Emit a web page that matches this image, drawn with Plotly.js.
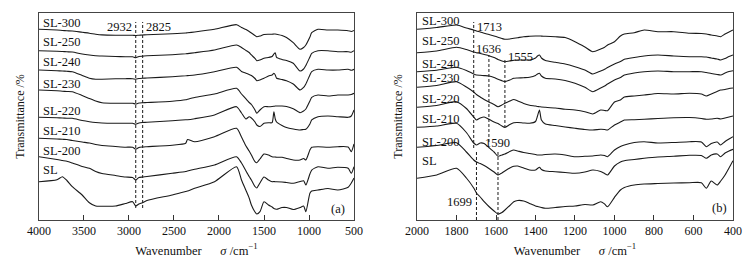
<!DOCTYPE html>
<html>
<head>
<meta charset="utf-8">
<script src="https://cdn.plot.ly/plotly-3.0.1.min.js"></script>
<style>html,body{margin:0;padding:0;background:#fff;}#chart{width:754px;height:263px;}</style>
</head>
<body>
<div id="chart"></div>
<script>
// ---------- DATA ----------
const sampleNames = ["SL-300", "SL-250", "SL-240", "SL-230", "SL-220", "SL-210", "SL-200", "SL"];

// Panel (a): wavenumber grid (cm^-1)
const wavenumberA = [4000, 3800, 3740, 3690, 3630, 3520, 3440, 3370, 3300, 3150, 3040, 2960, 2925, 2890, 2850, 2800, 2520, 2370, 2350, 2270, 2050, 1805, 1750, 1700, 1665, 1640, 1600, 1580, 1545, 1500, 1450, 1410, 1390, 1375, 1360, 1300, 1250, 1175, 1100, 1060, 1035, 990, 970, 900, 790, 680, 565, 530, 500];

// Panel (a): stacked transmittance (arbitrary units, offset per sample)
const transA_SL300 = [190.7, 190, 189.5, 189.2, 189, 187.7, 186.8, 185.8, 185.1, 184.7, 184.7, 184.7, 184.5, 184.8, 185, 185.3, 186.3, 187, 187.2, 188, 190.7, 195.3, 192.5, 190.5, 188.5, 187, 184.5, 183.3, 184, 185.5, 185.7, 185.7, 186, 186, 185.7, 184.5, 182.5, 177.3, 170.7, 172.5, 175, 183, 187.3, 190.7, 190, 190, 189.3, 188.5, 189.5];
const transA_SL250 = [169.3, 168.8, 168.5, 168.2, 168, 166, 165, 164.3, 164, 163.5, 163.3, 163.2, 162.3, 163.5, 163.8, 164.2, 165.3, 166.2, 166.4, 167.3, 170, 175, 172.5, 169.5, 167.5, 165, 161.5, 159.3, 160, 161.7, 162.5, 163.5, 166, 167.3, 162.5, 160.5, 159.5, 156.7, 149, 151, 154.5, 163, 166.7, 169.3, 169.3, 168.3, 168.3, 167.7, 169.3];
const transA_SL240 = [150, 149.2, 149, 148.7, 148.3, 144.5, 141.7, 140.7, 140.8, 141.2, 141.3, 141.3, 140.7, 141.5, 141.8, 142, 143.3, 144.2, 144.4, 145, 148.3, 152.7, 148.5, 146.8, 145.5, 144.5, 141.5, 139.3, 140, 141.7, 144, 145, 146.7, 145, 141.7, 140.5, 139.3, 136, 130, 132.5, 136, 145, 148.3, 150.7, 150, 150, 150.7, 149.7, 150.7];
const transA_SL230 = [130, 129.2, 128.8, 128.5, 128.3, 124.5, 121.5, 119, 117.3, 116.7, 116.7, 116.7, 116, 117, 117.3, 117.5, 118.7, 120.2, 120.7, 122.5, 126, 131.7, 126, 121, 117.5, 115.5, 110, 106.7, 110, 113.3, 113.3, 113.5, 113.7, 114, 114, 114, 113.5, 111.3, 107.3, 109, 111, 119, 122.7, 125, 124, 125, 125, 125.5, 126.7];
const transA_SL220 = [102.7, 102.2, 102, 101.8, 101.7, 99.5, 98.3, 97.5, 97, 96.7, 96.7, 96.7, 95.7, 97, 97.5, 97.7, 99.3, 100.2, 100.3, 101.3, 105, 113.3, 107, 101, 103.3, 102, 98, 95, 93.5, 96.7, 97.3, 97.3, 108.3, 101, 98, 94.5, 92.5, 91, 90, 90.5, 90.7, 96, 100, 103.3, 104, 103.3, 102.7, 104, 110];
const transA_SL210 = [81.7, 81, 80.7, 80.5, 79.5, 78, 77, 75.5, 74.5, 73.5, 72.8, 72.7, 70.7, 72.5, 73, 73.3, 74.8, 76.7, 80.5, 78.3, 83.3, 91.7, 83, 74, 69, 65, 58.3, 57.3, 61, 66, 65, 63.3, 63, 63, 62.7, 62.7, 61.5, 60, 60, 61.5, 60, 70, 72.7, 73.3, 72.7, 73.3, 73, 68.3, 76];
const transA_SL200 = [63.3, 60.5, 59.5, 58.7, 57, 53.5, 51.7, 48.5, 46.5, 44.5, 43, 42.5, 40, 42.5, 43, 43.5, 46.7, 48.5, 49, 50.7, 55, 63.3, 57, 49, 43.5, 40, 33.5, 32, 37, 43, 40, 38.3, 38.5, 38.3, 38.3, 38, 37.5, 36.7, 38.5, 39.3, 35, 46, 50, 53.3, 51.7, 52.7, 51.7, 46.7, 53.3];
const transA_SL = [38.3, 40.2, 43.3, 39.5, 33.3, 25, 17.3, 14, 13.8, 14, 16.5, 18.3, 14, 16, 17.3, 19.5, 25, 28.5, 29, 31.7, 38.3, 53.3, 40, 29.5, 22, 15, 8, 6, 8.3, 18.3, 15, 13, 11.5, 11, 10.7, 12.5, 12.5, 10.5, 12.5, 14, 8.3, 26.7, 29, 30, 31.5, 30, 32.7, 37, 42];

// Panel (b): wavenumber grid (cm^-1)
const wavenumberB = [2000, 1900, 1800, 1750, 1713, 1699, 1680, 1660, 1636, 1610, 1590, 1570, 1555, 1530, 1510, 1490, 1460, 1430, 1400, 1390, 1380, 1370, 1350, 1300, 1250, 1200, 1150, 1110, 1070, 1050, 1035, 1000, 970, 950, 900, 850, 780, 700, 620, 560, 535, 510, 480, 462, 440, 420, 400];

const transB_SL300 = [190.7, 192.5, 195, 192, 190, 189, 188, 186.7, 185.5, 184, 182.8, 181.5, 180.7, 181, 181.7, 182.3, 183.3, 183.7, 184, 184, 184, 183.9, 183.7, 183.2, 182.5, 178.3, 173, 168.3, 171, 172.7, 175, 178.3, 184, 186, 187.3, 190, 188.3, 188.3, 186.7, 186.5, 186, 185, 184, 183.3, 186, 188, 190];
const transB_SL250 = [167.3, 169, 172.7, 170.5, 168, 167.3, 166.5, 165.5, 164.3, 162.5, 160.5, 159, 158.3, 159, 159.8, 160, 160, 160, 162, 164, 165, 162, 159.5, 157.7, 156, 153.3, 150, 146, 149, 150.7, 152.5, 156, 158.5, 160.7, 162.5, 164, 165, 164, 163.3, 163.3, 163, 162, 161, 160, 161.5, 163.5, 165];
const transB_SL240 = [148.3, 149.8, 152.7, 149.5, 146, 145, 144.7, 144.4, 144, 142.5, 140.7, 139.3, 138.3, 140, 141.7, 142, 142.3, 142.7, 144.5, 146, 146.7, 144, 141.7, 141, 139.5, 136.7, 132.7, 128.3, 132, 134, 136, 140, 142.5, 145, 147, 148.3, 149, 148.3, 148.3, 148.3, 147.5, 146.5, 145.5, 145, 147, 148.5, 149.3];
const transB_SL230 = [132.7, 134.5, 138.3, 133, 128, 125.5, 123, 120.5, 118, 115.5, 113.3, 115, 116.7, 119, 120.5, 119, 116.5, 114.8, 114, 113.5, 113.3, 113, 112.7, 112, 110.8, 110, 108.3, 106, 110, 109.5, 109.3, 118, 120, 123, 124, 125, 126.5, 126, 126.7, 126, 124, 126, 128.5, 130, 130.5, 131.5, 132];
const transB_SL220 = [112.7, 114.5, 118.3, 111.5, 103, 100, 102, 103, 100.7, 98, 96.5, 94, 92.7, 95.5, 97.3, 97.5, 97, 96.7, 98.5, 104, 110, 100, 96, 94.5, 93, 91.7, 90.5, 90, 90.7, 90.5, 90, 95, 98, 100, 100.3, 100.7, 101.5, 102.3, 102.5, 101.5, 100.7, 101, 101.7, 101, 102, 103, 104];
const transB_SL210 = [92.7, 94, 96.7, 87.5, 77, 75, 77, 76.5, 72.5, 68, 63.7, 65, 66, 68.5, 70, 69, 67.5, 66.5, 65.5, 65, 65, 65, 65.5, 66, 65, 63.3, 63.7, 64, 65, 64.5, 63.3, 70, 73.5, 75, 77.5, 78.3, 77, 77.5, 78.3, 78, 73.3, 76.5, 78, 75, 78.5, 81, 83.3];
const transB_SL200 = [72.7, 74.5, 77.3, 68, 60, 58, 56.5, 54.5, 51.5, 48, 45, 47, 49, 52, 53.7, 54, 52, 50, 50, 51.5, 52.7, 50.5, 49, 48.3, 47.5, 46.7, 48, 50, 48.5, 46.5, 45, 54, 58, 59.3, 60.5, 61.7, 63, 63.7, 64.7, 64.5, 61.7, 65, 66, 63.3, 67, 69, 70.7];
const transB_SL = [41.7, 45, 51.7, 42, 32, 27, 23, 18.3, 13.5, 9, 6, 7.5, 10, 14.5, 18.3, 19.5, 19, 16.5, 14, 13.5, 13, 12.5, 11.7, 12.5, 13.5, 14, 15.5, 15, 18.3, 16, 13.3, 22.7, 30, 32.5, 35, 36, 36.5, 37, 37.3, 37.3, 31.7, 39, 35, 39, 45, 52, 59.3];

// Sample label heights (same units as transmittance)
const labelPosA = [197, 177.5, 157.5, 135.5, 109, 89, 69, 50.5];
const labelPosB = [199, 179, 156, 141.5, 120.5, 100.5, 78, 59.5];

// Marked bands
const marksA = [
  {pos: 2925, text: "2932", top: 198, bottom: 12, ty: 193.3, anchor: "right"},
  {pos: 2848, text: "2825", top: 198, bottom: 12, ty: 193.3, anchor: "left"}
];
const marksB = [
  {pos: 1713, text: "1713", top: 198, bottom: 72, ty: 193.3, anchor: "left"},
  {pos: 1636, text: "1636", top: 165, bottom: 78, ty: 170.7, anchor: "center"},
  {pos: 1555, text: "1555", top: 162, bottom: 92, ty: 163.3, anchor: "left"},
  {pos: 1590, text: "1590", top: 70, bottom: 0, ty: 76.7, anchor: "center"},
  {pos: 1699, text: "1699", top: 70, bottom: 0, ty: 18.3, anchor: "right"}
];

const seriesA = [transA_SL300, transA_SL250, transA_SL240, transA_SL230, transA_SL220, transA_SL210, transA_SL200, transA_SL];
const seriesB = [transB_SL300, transB_SL250, transB_SL240, transB_SL230, transB_SL220, transB_SL210, transB_SL200, transB_SL];

// ---------- CHART ----------
const FONT = "Liberation Serif, Times New Roman, serif";
const lineStyle = {color: "#1a1a1a", width: 1.1, shape: "spline", smoothing: 0.6};

const traces = [];
sampleNames.forEach((name, i) => {
  traces.push({x: wavenumberA, y: seriesA[i], xaxis: "x", yaxis: "y", mode: "lines", line: lineStyle, name: name, showlegend: false, hoverinfo: "skip"});
});
sampleNames.forEach((name, i) => {
  traces.push({x: wavenumberB, y: seriesB[i], xaxis: "x2", yaxis: "y2", mode: "lines", line: lineStyle, name: name, showlegend: false, hoverinfo: "skip"});
});

const annotations = [];
const shapes = [];
sampleNames.forEach((name, i) => {
  annotations.push({text: name, xref: "x domain", yref: "y", x: 0.006, y: labelPosA[i], xanchor: "left", yanchor: "middle", showarrow: false, font: {family: FONT, size: 12.5, color: "#111"}});
  annotations.push({text: name, xref: "x2 domain", yref: "y2", x: 0.008, y: labelPosB[i], xanchor: "left", yanchor: "middle", showarrow: false, font: {family: FONT, size: 12.5, color: "#111"}});
});
function addMarks(marks, xr, yr) {
  marks.forEach(m => {
    shapes.push({type: "line", xref: xr, yref: yr, x0: m.pos, x1: m.pos, y0: m.bottom, y1: m.top, line: {color: "#1a1a1a", width: 1, dash: "3px,2px"}});
    let shift = m.anchor === "left" ? 1 : (m.anchor === "right" ? -2 : 0);
    annotations.push({text: m.text, xref: xr, yref: yr, x: m.pos, y: m.ty, xanchor: m.anchor, yanchor: "middle", xshift: shift, showarrow: false, font: {family: FONT, size: 12.5, color: "#111"}});
  });
}
addMarks(marksA, "x", "y");
addMarks(marksB, "x2", "y2");
annotations.push({text: "(a)", xref: "x", yref: "y", x: 680, y: 11, showarrow: false, font: {family: FONT, size: 12.5, color: "#111"}});
annotations.push({text: "(b)", xref: "x2", yref: "y2", x: 470, y: 12, showarrow: false, font: {family: FONT, size: 12.5, color: "#111"}});

const xTitle = "Wavenumber\u00a0\u00a0\u00a0\u00a0\u00a0\u00a0<i>σ</i> /cm<sup>−1</sup>";
function xAxis(range, dtick, domain, anchor) {
  return {
    domain: domain, anchor: anchor, range: range, dtick: dtick, tick0: 0,
    ticks: "inside", ticklen: 5, tickwidth: 1, tickcolor: "#333",
    showline: true, linecolor: "#444", linewidth: 1, mirror: true,
    showgrid: false, zeroline: false, automargin: false,
    tickfont: {family: FONT, size: 12, color: "#111"},
    title: {text: xTitle, font: {family: FONT, size: 12.5, color: "#111"}, standoff: 8}
  };
}
function yAxis(anchor) {
  return {
    domain: [0.1635, 0.9506], anchor: anchor, range: [0, 207],
    showline: true, linecolor: "#444", linewidth: 1, mirror: true,
    ticks: "", showticklabels: false, showgrid: false, zeroline: false, automargin: false,
    title: {text: "Transmittance /%", font: {family: FONT, size: 12, color: "#111"}, standoff: 10}
  };
}

const layout = {
  width: 754, height: 263,
  margin: {l: 0, r: 0, t: 0, b: 0},
  paper_bgcolor: "#fff", plot_bgcolor: "#fff",
  showlegend: false,
  xaxis: xAxis([4000, 500], 500, [0.0517, 0.4695], "y"),
  yaxis: yAxis("x"),
  xaxis2: xAxis([2000, 400], 200, [0.5531, 0.9721], "y2"),
  yaxis2: yAxis("x2"),
  annotations: annotations,
  shapes: shapes
};

Plotly.newPlot("chart", traces, layout, {staticPlot: true, displayModeBar: false});
</script>
</body>
</html>
